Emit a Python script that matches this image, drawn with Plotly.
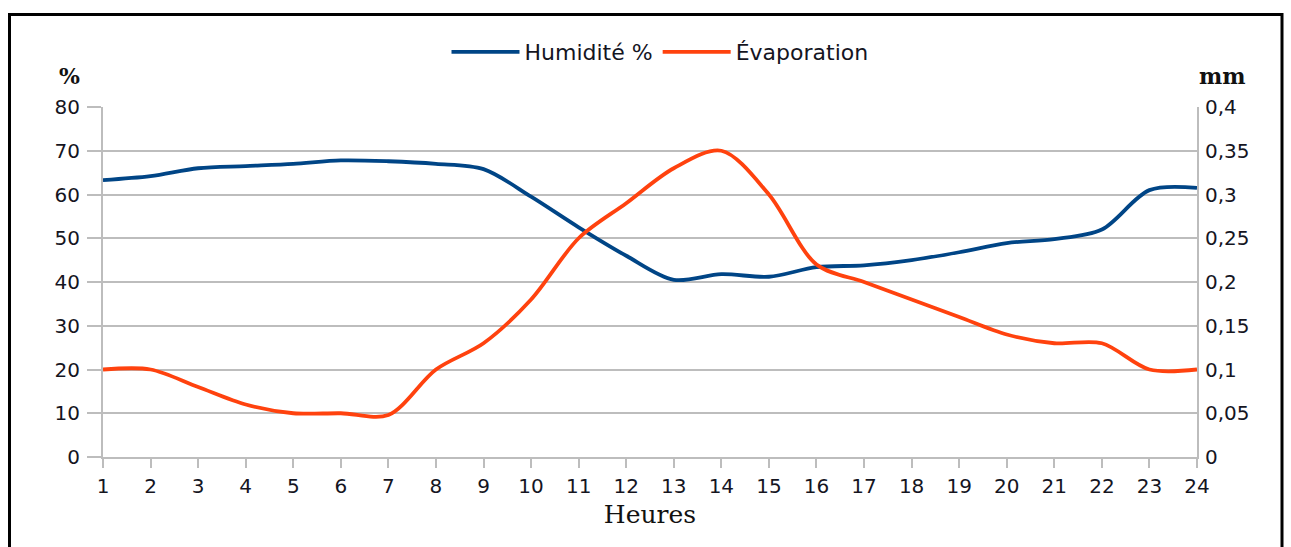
import plotly.graph_objects as go

# Hourly readings
heures = list(range(1, 25))
humidite = [63.3, 64.2, 66.0, 66.5, 67.0, 67.8, 67.6, 67.0, 65.8, 59.5, 52.5, 46.0,
            40.5, 41.8, 41.2, 43.4, 43.8, 45.0, 46.8, 48.9, 49.8, 52.0, 61.0, 61.5]
evaporation = [0.10, 0.10, 0.08, 0.06, 0.05, 0.05, 0.048, 0.10, 0.13, 0.18, 0.25, 0.29,
               0.33, 0.35, 0.30, 0.22, 0.20, 0.18, 0.16, 0.14, 0.13, 0.13, 0.10, 0.10]

y_ticks_left = list(range(0, 81, 10))
y_ticks_right = [0, 0.05, 0.1, 0.15, 0.2, 0.25, 0.3, 0.35, 0.4]

BLUE = "#004586"
ORANGE = "#ff420e"
GRID = "#bdbdbd"
TXT = "#15151f"
SANS = "DejaVu Sans, Verdana, sans-serif"
SERIF = "DejaVu Serif, Liberation Serif, serif"

W, H = 1291, 547
L, R, T, B = 103, 94, 107, 90
pw, ph = W - L - R, H - T - B


def px(x):
    return (x - L) / pw


def py(y):
    return (H - B - y) / ph


fig = go.Figure()
fig.add_trace(go.Scatter(
    x=heures, y=humidite, name="Humidité %", mode="lines",
    line=dict(color=BLUE, width=3.8, shape="spline", smoothing=0.9),
))
fig.add_trace(go.Scatter(
    x=heures, y=evaporation, name="Évaporation", mode="lines", yaxis="y2",
    line=dict(color=ORANGE, width=3.8, shape="spline", smoothing=0.9),
))

fig.update_layout(
    width=W, height=H,
    margin=dict(l=L, r=R, t=T, b=B),
    paper_bgcolor="white", plot_bgcolor="white",
    separators=", ",
    font=dict(family=SANS, size=20, color=TXT),
    showlegend=True,
    legend=dict(orientation="h", x=px(660), xanchor="center", y=py(52), yanchor="middle",
                font=dict(family=SANS, size=22, color=TXT), itemwidth=68,
                bgcolor="rgba(0,0,0,0)"),
    xaxis=dict(
        range=[1, 24], tickvals=heures, ticktext=[str(h) for h in heures],
        showgrid=False, zeroline=False, showline=True, linecolor=GRID, linewidth=2,
        ticks="outside", ticklen=9, tickcolor=GRID, tickwidth=2, ticklabelstandoff=1,
        title=dict(text="Heures", font=dict(family=SERIF, size=25, color="#111"),
                   standoff=8),
    ),
    yaxis=dict(
        range=[0, 80], tickvals=y_ticks_left,
        showgrid=True, gridcolor=GRID, gridwidth=1.5, zeroline=False,
        showline=True, linecolor=GRID, linewidth=2,
        ticks="outside", ticklen=14, tickcolor=GRID, tickwidth=2, ticklabelstandoff=3,
    ),
    yaxis2=dict(
        range=[0, 0.4], tickvals=y_ticks_right, overlaying="y", side="right",
        showgrid=False, zeroline=False, showline=True, linecolor=GRID, linewidth=2,
        ticks="", ticklabelstandoff=2,
    ),
    annotations=[
        dict(text="<b>%</b>", x=px(69), y=py(76), xref="paper", yref="paper",
             xanchor="center", yanchor="middle",
             showarrow=False, font=dict(family=SERIF, size=22, color="#111")),
        dict(text="<b>mm</b>", x=px(1222), y=py(76), xref="paper", yref="paper",
             xanchor="center", yanchor="middle",
             showarrow=False, font=dict(family=SERIF, size=22, color="#111")),
    ],
    shapes=[
        dict(type="rect", xref="paper", yref="paper",
             x0=px(9.5), x1=px(1282), y0=py(600), y1=py(14.5),
             line=dict(color="black", width=3), fillcolor="rgba(0,0,0,0)", layer="below"),
    ],
)

fig.write_html("out.html")
